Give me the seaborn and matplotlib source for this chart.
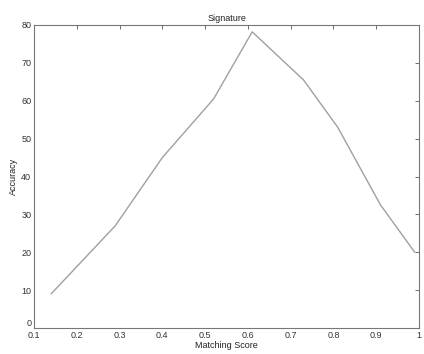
import matplotlib
matplotlib.use("Agg")
import matplotlib.pyplot as plt
import seaborn as sns
import pandas as pd

score = [0.14, 0.29, 0.40, 0.52, 0.61, 0.73, 0.81, 0.91, 0.99]
accuracy = [9, 27, 45, 60.5, 78.2, 65.5, 53, 32.5, 20]
xticks = [0.1, 0.2, 0.3, 0.4, 0.5, 0.6, 0.7, 0.8, 0.9, 1]
xticklabels = ["0.1", "0.2", "0.3", "0.4", "0.5", "0.6", "0.7", "0.8", "0.9", "1"]
yticks = [0, 10, 20, 30, 40, 50, 60, 70, 80]

sns.set_theme(style="white")
plt.rcParams['font.family'] = ['Liberation Sans', 'DejaVu Sans']

df = pd.DataFrame({"Matching Score": score, "Accuracy": accuracy})
fig = plt.figure(figsize=(4.24, 3.54), dpi=100)
ax = fig.add_axes([34/424, 1-328/354, (419-34)/424, (328-25)/354])
sns.lineplot(data=df, x="Matching Score", y="Accuracy", ax=ax, color="#a0a0a0", linewidth=1.0)
ax.set_xlim(0.1, 1)
ax.set_ylim(0, 80)
ax.set_xticks(xticks)
ax.set_xticklabels(xticklabels)
ax.set_yticks(yticks)
ax.tick_params(direction="in", length=3, width=0.6, labelsize=6.5, colors="#555555",
               top=True, right=True, pad=2)
ax.tick_params(axis="both", labelcolor="#333333")
ax.get_yticklabels()[0].set_verticalalignment("bottom")
for s in ax.spines.values():
    s.set_color("#777777")
    s.set_linewidth(0.8)
ax.set_title("Signature", fontsize=6.5, color="#222222", pad=3)
ax.set_xlabel("Matching Score", fontsize=6.5, color="#222222", labelpad=1)
ax.set_ylabel("Accuracy", fontsize=6.5, color="#222222", labelpad=2)
fig.savefig("out.png", dpi=100, facecolor="white")
